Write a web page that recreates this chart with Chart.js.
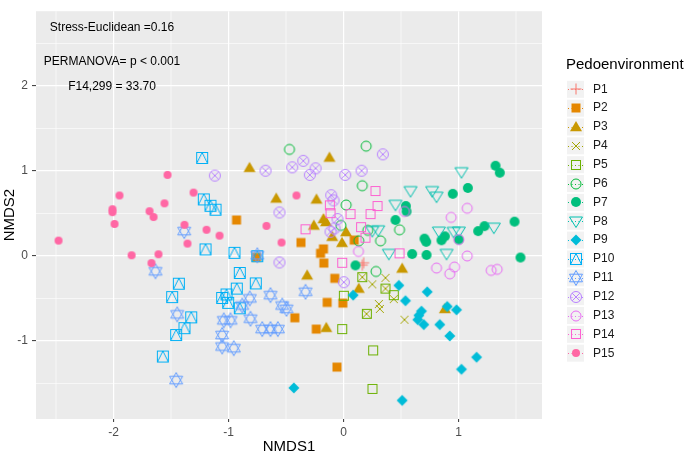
<!DOCTYPE html>
<html><head><meta charset="utf-8">
<script src="https://cdn.jsdelivr.net/npm/chart.js@4.4.0/dist/chart.umd.min.js"></script>
<style>html,body{margin:0;padding:0;background:#fff;}canvas{display:block;}</style>
</head><body>
<canvas id="c" width="685" height="454"></canvas>
<script>
// ---------- data (NMDS1, NMDS2) ----------
const groups = ['P1','P2','P3','P4','P5','P6','P7','P8','P9','P10','P11','P12','P13','P14','P15'];
const P1 = [[0.163,-0.107],[0.175,-0.080]];
const P2 = [[-0.930,0.423],[-0.370,0.158],[-0.200,0.031],[-0.174,0.083],[-0.171,-0.084],[-0.757,-0.015],[0.093,0.187],[-0.076,-0.263],[-0.142,-0.546],[-0.006,-0.554],[-0.423,-0.727],[-0.237,-0.860],[-0.057,-1.307]];
const P3 = [[-0.122,1.158],[-0.817,1.038],[-0.585,0.677],[-0.235,0.666],[-0.258,0.358],[-0.174,0.435],[-0.152,0.400],[-0.098,0.227],[0.022,0.281],[-0.013,0.155],[-0.316,-0.228],[0.510,-0.148],[0.133,-0.384],[-0.150,-0.845],[0.881,-0.623]];
const P4 = [[0.163,-0.249],[0.250,-0.334],[0.365,-0.257],[0.365,-0.384],[0.437,-0.507],[0.307,-0.565],[0.316,-0.623],[0.200,-0.681],[0.530,-0.750]];
const P5 = [[0.163,-0.249],[0.365,-0.384],[0.437,-0.461],[0.003,-0.468],[0.203,-0.681],[-0.011,-0.860],[0.258,-1.111],[0.252,-1.564]];
const P6 = [[-0.470,1.254],[0.197,1.292],[0.163,0.827],[0.023,0.600],[-0.022,0.360],[0.211,0.302],[0.322,0.178],[0.487,0.308],[0.133,0.178],[0.283,-0.182]];
const P7 = [[1.322,1.061],[1.359,0.980],[1.081,0.800],[0.950,0.731],[0.542,0.588],[0.548,0.524],[0.452,0.423],[1.487,0.404],[1.226,0.351],[1.171,0.293],[0.704,0.204],[0.719,0.166],[0.852,0.185],[0.881,0.231],[1.003,0.193],[0.597,0.023],[0.722,0.012],[1.539,-0.018],[0.104,-0.111]];
const P8 = [[1.026,0.992],[0.583,0.769],[0.771,0.769],[0.809,0.704],[0.452,0.608],[0.302,0.308],[0.250,0.300],[0.829,0.293],[1.003,0.293],[1.307,0.339],[0.394,0.031],[0.896,0.031],[0.957,0.290]];
const P9 = [[0.084,-0.461],[0.481,-0.346],[0.728,-0.422],[0.539,-0.526],[0.902,-0.595],[0.983,-0.634],[0.655,-0.699],[0.646,-0.750],[0.698,-0.807],[0.837,-0.807],[0.924,-0.941],[1.157,-1.191],[1.026,-1.333],[0.510,-1.699],[-0.432,-1.552],[0.678,-0.649]];
const P10 = [[-1.229,1.153],[-1.215,0.666],[-1.157,0.591],[-1.113,0.544],[-1.200,0.077],[-0.948,0.037],[-0.750,-0.003],[-0.902,-0.200],[-1.432,-0.326],[-1.490,-0.484],[-1.324,-0.722],[-1.383,-0.849],[-1.455,-0.930],[-1.571,-1.183],[-0.928,-0.384],[-1.055,-0.494],[-1.003,-0.551],[-0.902,-0.615],[-0.763,-0.323],[-1.017,-0.453]];
const P11 = [[-1.385,0.293],[-1.635,-0.180],[-1.446,-0.687],[-1.455,-1.460],[-0.750,0.008],[-0.815,-0.499],[-0.635,-0.461],[-0.330,-0.421],[-0.533,-0.583],[-0.496,-0.622],[-0.881,-0.583],[-0.809,-0.738],[-1.041,-0.757],[-0.983,-0.757],[-0.707,-0.860],[-0.635,-0.860],[-0.571,-0.860],[-1.055,-0.930],[-1.055,-1.065],[-0.954,-1.085]];
const P12 = [[-1.119,0.946],[-0.678,1.003],[-0.446,1.043],[-0.350,1.119],[-0.243,1.031],[-0.293,0.954],[-0.107,0.715],[-0.557,0.512],[0.157,1.003],[0.015,0.954],[-0.078,0.325],[-0.557,-0.076],[0.003,-0.309],[0.342,1.196],[-0.052,0.435],[-0.113,0.285],[-0.087,0.654]];
const P13 = [[0.530,0.524],[0.936,0.454],[1.076,0.561],[1.003,0.193],[1.076,0.000],[0.809,-0.142],[0.965,-0.130],[0.924,-0.210],[1.284,-0.170],[1.336,-0.157],[0.130,0.054]];
const P14 = [[0.278,0.764],[-0.119,0.596],[-0.113,0.504],[0.061,0.493],[0.235,0.493],[0.296,0.588],[0.153,0.339],[-0.330,0.314],[-0.011,-0.080],[0.487,0.031],[0.191,0.215]];
const P15 = [[-1.530,0.954],[-1.948,0.712],[-1.304,0.746],[-2.009,0.550],[-2.009,0.516],[-1.687,0.527],[-1.652,0.458],[-1.557,0.619],[-1.991,0.377],[-2.478,0.181],[-1.383,0.366],[-1.191,0.308],[-1.078,0.239],[-1.357,0.146],[-1.843,0.008],[-1.609,0.020],[-1.670,-0.084],[-0.670,0.354],[-0.539,0.158],[-0.409,0.712]];
const xTicks = [-2,-1,0,1];
const yTicks = [-1,0,1,2];
const notes = ['Stress-Euclidean =0.16','PERMANOVA= p < 0.001','F14,299 = 33.70'];
const legendTitle = 'Pedoenvironment';

// ---------- styles ----------
const series = [P1,P2,P3,P4,P5,P6,P7,P8,P9,P10,P11,P12,P13,P14,P15];
const palette = ['#F8766D','#E58700','#C99800','#A3A500','#6BB100','#00BA38','#00BF7D','#00C0AF','#00BCD8','#00B0F6','#619CFF','#B983FF','#E76BF3','#FD61D1','#FF67A4'];
const shapes = ['plus','sqF','triF','x','sqO','circO','circF','triDown','diamF','sqTri','star','circX','circO','sqO','bullet'];
const FONT = "'Liberation Sans', Arial, Helvetica, sans-serif";

function makeShape(kind, color){
  const cv = document.createElement('canvas'); cv.width = 20; cv.height = 20;
  const g = cv.getContext('2d'); const c = 10;
  g.strokeStyle = color; g.fillStyle = color; g.lineWidth = 1;
  g.beginPath();
  switch(kind){
    case 'plus': g.moveTo(c-5.5,c); g.lineTo(c+5.5,c); g.moveTo(c,c-5.5); g.lineTo(c,c+5.5); g.stroke(); break;
    case 'sqF': g.fillRect(c-4.5,c-4.5,9,9); break;
    case 'triF': g.moveTo(c,c-6); g.lineTo(c+6,c+4.3); g.lineTo(c-6,c+4.3); g.closePath(); g.fill(); break;
    case 'x': g.moveTo(c-4,c-4); g.lineTo(c+4,c+4); g.moveTo(c+4,c-4); g.lineTo(c-4,c+4); g.stroke(); break;
    case 'sqO': g.strokeRect(c-4.5,c-4.5,9,9); break;
    case 'circO': g.arc(c,c,5,0,2*Math.PI); g.stroke(); break;
    case 'circF': g.arc(c,c,5,0,2*Math.PI); g.fill(); break;
    case 'triDown': g.moveTo(c-6.5,c-4); g.lineTo(c+6.5,c-4); g.lineTo(c,c+6.5); g.closePath(); g.stroke(); break;
    case 'diamF': g.moveTo(c,c-5.5); g.lineTo(c+5.5,c); g.lineTo(c,c+5.5); g.lineTo(c-5.5,c); g.closePath(); g.fill(); break;
    case 'sqTri': g.strokeRect(c-5.5,c-5.5,11,11); g.moveTo(c-5.5,c+5.5); g.lineTo(c,c-5.5); g.lineTo(c+5.5,c+5.5); g.stroke(); break;
    case 'star':
      g.moveTo(c,c-7.5); g.lineTo(c+6.5,c+3.8); g.lineTo(c-6.5,c+3.8); g.closePath();
      g.moveTo(c,c+7.5); g.lineTo(c+6.5,c-3.8); g.lineTo(c-6.5,c-3.8); g.closePath(); g.stroke(); break;
    case 'circX': g.arc(c,c,5.5,0,2*Math.PI); g.stroke(); g.beginPath();
      g.moveTo(c-3.9,c-3.9); g.lineTo(c+3.9,c+3.9); g.moveTo(c+3.9,c-3.9); g.lineTo(c-3.9,c+3.9); g.stroke(); break;
    case 'bullet': g.arc(c,c,4,0,2*Math.PI); g.fill(); break;
  }
  return cv;
}
const imgs = shapes.map((s,i)=>makeShape(s, palette[i]));

const bgPlugin = {
  id:'panelBg',
  beforeDraw(chart){
    const {ctx, chartArea:a, scales:{x,y}} = chart;
    ctx.save();
    ctx.fillStyle = '#EBEBEB';
    ctx.fillRect(a.left, a.top, a.right-a.left, a.bottom-a.top);
    ctx.strokeStyle = '#FFFFFF'; ctx.lineWidth = 0.6;
    [-2.5,-1.5,-0.5,0.5,1.5].forEach(v=>{ const p=x.getPixelForValue(v); ctx.beginPath(); ctx.moveTo(p,a.top); ctx.lineTo(p,a.bottom); ctx.stroke(); });
    [-1.5,-0.5,0.5,1.5,2.5].forEach(v=>{ const p=y.getPixelForValue(v); ctx.beginPath(); ctx.moveTo(a.left,p); ctx.lineTo(a.right,p); ctx.stroke(); });
    ctx.restore();
  }
};

const notesPlugin = {
  id:'notes',
  afterDatasetsDraw(chart, args, opts){
    const {ctx, scales:{x,y}} = chart;
    ctx.save();
    ctx.font = '12px ' + FONT; ctx.fillStyle = '#000'; ctx.textAlign = 'center'; ctx.textBaseline = 'middle';
    notes.forEach((t,i)=>ctx.fillText(t, x.getPixelForValue(opts.x[i]), y.getPixelForValue(opts.y[i])));
    ctx.restore();
  }
};

const legendPlugin = {
  id:'ggLegend',
  afterDraw(chart, args, o){
    const ctx = chart.ctx;
    ctx.save();
    ctx.fillStyle = '#000'; ctx.textAlign = 'left'; ctx.textBaseline = 'middle';
    ctx.font = '15px ' + FONT;
    ctx.fillText(legendTitle, o.left, o.titleY);
    ctx.font = '12px ' + FONT;
    groups.forEach((g,i)=>{
      const cy = o.firstY + i*o.step, kx = o.left + 1;
      ctx.fillStyle = '#F2F2F2';
      ctx.fillRect(kx, cy - o.key/2, o.key, o.key);
      ctx.save();
      ctx.strokeStyle = palette[i]; ctx.lineWidth = 1; ctx.setLineDash([1,2.5]);
      ctx.beginPath(); ctx.moveTo(kx+1, Math.round(cy)+0.5); ctx.lineTo(kx+o.key-1, Math.round(cy)+0.5); ctx.stroke();
      ctx.restore();
      ctx.drawImage(imgs[i], Math.round(kx + o.key/2) - 10, Math.round(cy) - 10);
      ctx.fillStyle = '#1A1A1A';
      ctx.fillText(g, o.labelX, cy);
    });
    ctx.restore();
  }
};

new Chart(document.getElementById('c'), {
  type:'scatter',
  data:{ datasets: groups.map((g,i)=>({
    label:g,
    data: series[i].map(p=>({x:p[0], y:p[1]})),
    pointStyle: imgs[i], pointRadius:5, order: 15-i
  }))},
  options:{
    responsive:false, animation:false, events:[],
    layout:{padding:{top:3, right:143, bottom:0, left:0}},
    plugins:{
      legend:{display:false}, tooltip:{enabled:false},
      notes:{x:[-2.013,-2.013,-2.013], y:[2.684,2.288,1.992]},
      ggLegend:{left:566, titleY:65, firstY:89.3, step:18.85, key:17, labelX:593}
    },
    scales:{
      x:{
        type:'linear', min:-2.674, max:1.726,
        afterBuildTicks:s=>{ s.ticks = xTicks.map(v=>({value:v})); },
        afterFit:s=>{ s.height = 35; },
        grid:{color:'#FFFFFF', lineWidth:1.2, tickColor:'#333333', tickLength:3, tickWidth:1},
        border:{display:false},
        ticks:{color:'#4D4D4D', font:{family:FONT, size:12}, padding:3, maxRotation:0, callback:v=>String(v)},
        title:{display:true, text:'NMDS1', color:'#000', font:{family:FONT, size:15, lineHeight:1}, padding:{top:0, bottom:0}}
      },
      y:{
        type:'linear', min:-1.918, max:2.88,
        afterBuildTicks:s=>{ s.ticks = yTicks.map(v=>({value:v})); },
        afterFit:s=>{ s.width = 36; },
        grid:{color:'#FFFFFF', lineWidth:1.2, tickColor:'#333333', tickLength:4, tickWidth:1},
        border:{display:false},
        ticks:{color:'#4D4D4D', font:{family:FONT, size:12}, padding:4, callback:v=>String(v)},
        title:{display:true, text:'NMDS2', color:'#000', font:{family:FONT, size:15, lineHeight:1.2}, padding:{top:1, bottom:0}}
      }
    }
  },
  plugins:[bgPlugin, notesPlugin, legendPlugin]
});
</script>
</body></html>
